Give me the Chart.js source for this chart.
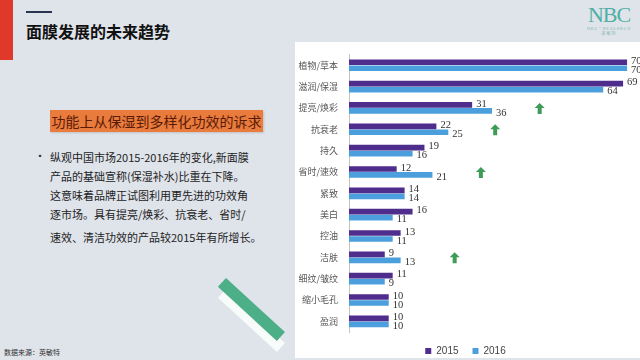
<!DOCTYPE html>
<html>
<head>
<meta charset="utf-8">
<script src="https://cdn.jsdelivr.net/npm/chart.js@4.4.1/dist/chart.umd.min.js"></script>
<style>
  body { margin: 0; }
  #page { position: relative; width: 640px; height: 360px; overflow: hidden; background: #dfe3ea; font-family: "Noto Sans CJK SC", sans-serif; }
  #redbar { position: absolute; left: 0; top: 0; width: 13px; height: 60px; background: #e0382a; }
  #topline { position: absolute; left: 26px; top: 11px; width: 26px; height: 1.5px; background: #2a3550; }
  #title { position: absolute; left: 26px; top: 19px; font-size: 16px; font-weight: bold; color: #111; }
  #logo { position: absolute; left: 584px; top: 4px; width: 50px; text-align: center; color: #4fb0a5; }
  #logo .big { font-family: "Liberation Serif", serif; font-size: 22px; line-height: 22px; letter-spacing: -1px; }
  #logo .small { font-size: 4px; line-height: 5px; color: #7fb8b2; letter-spacing: 1px; }
  #panel { position: absolute; left: 295px; top: 42px; width: 345px; height: 316px; background: #fff; }
  #tag { position: absolute; left: 50px; top: 110px; width: 213px; height: 22px; background: #e97b3c; color: #5a1a08; font-size: 14px; line-height: 22px; text-align: center; white-space: nowrap; box-shadow: 1px 1px 2px rgba(0,0,0,0.15); }
  #bullet { position: absolute; left: 36px; top: 150px; font-size: 8px; color: #333; }
  .line { position: absolute; left: 50px; font-size: 11px; color: #222; white-space: nowrap; }
  #stripeShade { position: absolute; left: 226px; top: 289px; width: 80px; height: 12px; background: #f7fbf9; transform: rotate(42.5deg); transform-origin: 0 0; }
  #stripe { position: absolute; left: 226px; top: 278px; width: 80px; height: 12px; background: #4caf88; transform: rotate(42.5deg); transform-origin: 0 0; }
  #source { position: absolute; left: 4px; top: 347px; font-size: 7px; color: #333; }
  #chart { position: absolute; left: 296px; top: 42px; }
</style>
</head>
<body>
<div id="page">
  <div id="redbar"></div>
  <div id="topline"></div>
  <div id="title">面膜发展的未来趋势</div>
  <div id="logo"><div class="big">NBC</div><div class="small">NBC·RESEARCH</div><div class="small">英敏特</div></div>
  <div id="panel"></div>
  <div id="tag">功能上从保湿到多样化功效的诉求</div>
  <div id="bullet">▪</div>
  <div class="line" style="top:149px">纵观中国市场2015-2016年的变化,新面膜</div>
  <div class="line" style="top:168px">产品的基础宣称(保湿补水)比重在下降。</div>
  <div class="line" style="top:187px">这意味着品牌正试图利用更先进的功效角</div>
  <div class="line" style="top:206px">逐市场。具有提亮/焕彩、抗衰老、省时/</div>
  <div class="line" style="top:229px">速效、清洁功效的产品较2015年有所增长。</div>
  <div id="stripeShade"></div>
  <div id="stripe"></div>
  <div id="source">数据来源：英敏特</div>
  <canvas id="chart" width="344" height="324"></canvas>
</div>
<script>
const categories = ["植物/草本", "滋润/保湿", "提亮/焕彩", "抗衰老", "持久", "省时/速效", "紧致", "美白", "控油", "洁肤", "细纹/皱纹", "缩小毛孔", "盈润"];
const values2015 = [70, 69, 31, 22, 19, 12, 14, 16, 13, 9, 11, 10, 10];
const values2016 = [70, 64, 36, 25, 16, 21, 14, 11, 11, 13, 9, 10, 10];
const seriesNames = ["2015", "2016"];
const seriesColors = ["#4e2d8c", "#4a9fdc"];
// green "up" arrows: category and position on the value axis
const arrowCats = ["提亮/焕彩", "抗衰老", "省时/速效", "洁肤"];
const arrowAt = [48, 36.8, 33.2, 26.6];

const valueLabels = {
  id: "valueLabels",
  afterDatasetsDraw(chart) {
    const ctx = chart.ctx;
    ctx.save();
    ctx.font = "10.5px 'Liberation Serif'";
    ctx.fillStyle = "#333";
    ctx.textBaseline = "middle";
    chart.data.datasets.forEach((ds, i) => {
      chart.getDatasetMeta(i).data.forEach((bar, j) => {
        ctx.fillText(ds.data[j], bar.x + 4, bar.y + (i === 0 ? -1 : 2));
      });
    });
    ctx.restore();
  }
};

const upArrows = {
  id: "upArrows",
  afterDatasetsDraw(chart) {
    const ctx = chart.ctx;
    const xs = chart.scales.x, ys = chart.scales.y;
    ctx.save();
    ctx.fillStyle = "#3e9b58";
    arrowCats.forEach((c, k) => {
      const x = xs.getPixelForValue(arrowAt[k]);
      const y = ys.getPixelForValue(categories.indexOf(c)) + 1;
      ctx.beginPath();
      ctx.moveTo(x, y - 6);
      ctx.lineTo(x + 5, y - 1);
      ctx.lineTo(x + 2, y - 1);
      ctx.lineTo(x + 2, y + 5);
      ctx.lineTo(x - 2, y + 5);
      ctx.lineTo(x - 2, y - 1);
      ctx.lineTo(x - 5, y - 1);
      ctx.closePath();
      ctx.fill();
    });
    ctx.restore();
  }
};

new Chart(document.getElementById("chart"), {
  type: "bar",
  data: {
    labels: categories,
    datasets: [
      { label: seriesNames[0], data: values2015, backgroundColor: seriesColors[0] },
      { label: seriesNames[1], data: values2016, backgroundColor: seriesColors[1] }
    ]
  },
  options: {
    indexAxis: "y",
    responsive: false,
    animation: false,
    devicePixelRatio: 1,
    categoryPercentage: 0.56,
    barPercentage: 0.95,
    layout: { padding: { top: 12.6, right: 5, bottom: 0, left: 0 } },
    scales: {
      x: { display: false, min: 0, max: 72 },
      y: {
        afterFit: (scale) => { scale.width = 53; },
        grid: { display: false },
        border: { display: true, color: "#c4c4c4" },
        ticks: { color: "#555", padding: 3, font: { family: "Noto Sans CJK SC", size: 9 } }
      }
    },
    plugins: {
      tooltip: { enabled: false },
      legend: {
        position: "bottom",
        labels: { boxWidth: 6, boxHeight: 6, padding: 14, color: "#444", font: { family: "Liberation Sans", size: 10 } }
      }
    }
  },
  plugins: [valueLabels, upArrows]
});
</script>
</body>
</html>
